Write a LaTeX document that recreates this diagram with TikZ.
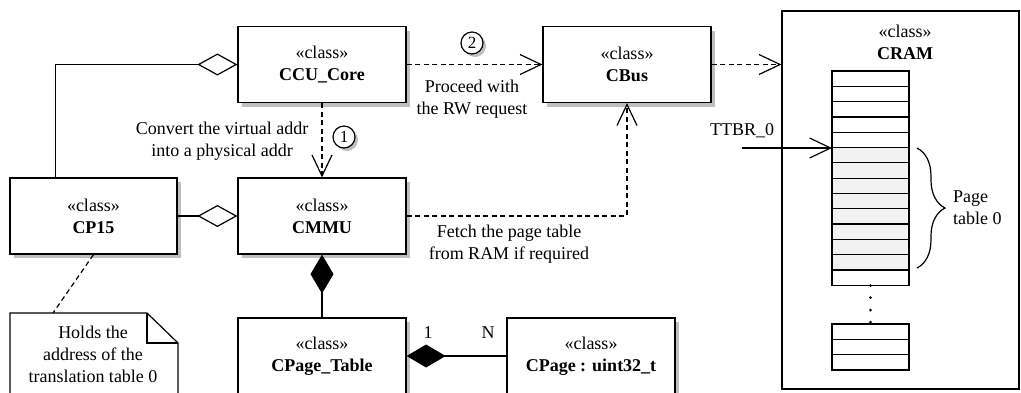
\documentclass[tikz,border=0pt]{standalone}
\usepackage{fontspec}
\setmainfont{Liberation Serif}
\usetikzlibrary{arrows.meta,shadows,decorations.pathreplacing,calc}
\definecolor{shd}{gray}{0.75}
\definecolor{rowgray}{gray}{0.95}
\begin{document}
\begin{tikzpicture}[x=1pt,y=-1pt,
  lw/.style={line width=1.2pt},
  txt/.style={font=\fontsize{18}{22}\selectfont},
  cls/.style={draw,lw,fill=white,minimum width=168pt,minimum height=76pt,inner sep=0pt,align=center,txt,
    drop shadow={shadow xshift=4pt,shadow yshift=-4pt,fill=shd,opacity=1}},
  lbl/.style={align=center,txt,inner sep=0pt},
  circ/.style={circle,draw,lw,fill=white,minimum size=22pt,inner sep=0pt,font=\fontsize{17}{17}\selectfont,
    drop shadow={shadow xshift=3pt,shadow yshift=-3pt,fill=shd,opacity=1}},
  vtip/.tip={Straight Barb[length=21pt,width=20pt]},
  dep/.style={lw,dash pattern=on 5pt off 3.5pt,-vtip},
  assoc/.style={lw,-vtip},
  agg/.style={lw,-{Diamond[open,length=40pt,width=22pt]}},
  comp/.style={lw,-{Diamond[length=39pt,width=23pt]}},
  notelink/.style={lw,dash pattern=on 5pt off 3.5pt}
]
\useasboundingbox (0,0) rectangle (1021,392);
\clip (0,0) rectangle (1021,392);
\fill[white] (0,0) rectangle (1021,392);

% CRAM container
\node[draw,lw,minimum width=237pt,minimum height=378pt,inner sep=0pt] (cram) at (900.5,200) {};
\node[lbl] (cramt) at (905,42.5) {«class»\\\textbf{CRAM}};
\fill[rowgray] (832,147.5) rectangle (909,269.9);
\foreach \i in {0,...,14} \draw[lw] (832,{71+15.3*\i}) -- (909,{71+15.3*\i});
\draw[lw] (832,71) rectangle (909,285.2);
\draw[lw] (832,324) rectangle (909,370);
\draw[lw] (832,339.3) -- (909,339.3);
\draw[lw] (832,354.7) -- (909,354.7);
\foreach \yy in {285.5,297.5,310,322} \fill (870.5,\yy) circle (1.5);
\draw[lw,decorate,decoration={brace,amplitude=28pt}] (917,148) -- (917,268);
\node[lbl,align=left,anchor=west] (ptl) at (953,208) {Page\\table 0};
\coordinate (ttbr) at (742,148);
\coordinate (pt0) at (832,148);
\node[lbl] (ttbrl) at (742,131) {TTBR\_0};
\draw[assoc] (ttbr) -- (pt0);

% classes
\node[cls] (ccu) at (322,64.5) {«class»\\\textbf{CCU\_Core}};
\node[cls] (cbus) at (627,64.5) {«class»\\\textbf{CBus}};
\node[cls] (cmmu) at (322,216) {«class»\\\textbf{CMMU}};
\node[cls,minimum width=167pt] (cp15) at (93.5,216) {«class»\\\textbf{CP15}};
\node[cls] (cpt) at (322,356) {«class»\\\textbf{CPage\_Table}};
\node[cls] (cpage) at (591,356) {«class»\\\textbf{CPage : uint32\_t}};

% note
\draw[lw,fill=white] (10,313) -- (147,313) -- (178,343) -- (178,400) -- (10,400) -- cycle;
\draw[lw] (147,313) -- (147,343) -- (178,343);
\node[lbl] (note) at (93,354.5) {Holds the\\address of the\\translation table 0};
\coordinate (notetop) at (53,313);
\draw[notelink] (cp15.south) -- (notetop);

% connectors
\draw[dep] (ccu.east) -- (cbus.west);
\draw[dep] (ccu.south) -- (cmmu.north);
\draw[dep] (cbus.east) -- (cbus.east -| cram.west);
\draw[dep] (cmmu.east) -| (cbus.south);
\draw[agg] (cp15.east) -- (cmmu.west);
\draw[agg] ($(cp15.north west)+(46,0)$) |- (ccu.west);
\draw[comp] (cpt.north) -- (cmmu.south);
\draw[comp] (cpage.west) -- (cpt.east);

% labels
\node[circ] (n1) at (344,137) {1};
\node[circ] (n2) at (472,43) {2};
\node[lbl] (l1) at (222,141) {Convert the virtual addr\\into a physical addr};
\node[lbl] (l2) at (472,99) {Proceed with\\the RW request};
\node[lbl] (l3) at (509,244) {Fetch the page table\\from RAM if required};
\node[lbl] (m1) at (428,333) {1};
\node[lbl] (mn) at (488,333) {N};
\end{tikzpicture}
\end{document}
